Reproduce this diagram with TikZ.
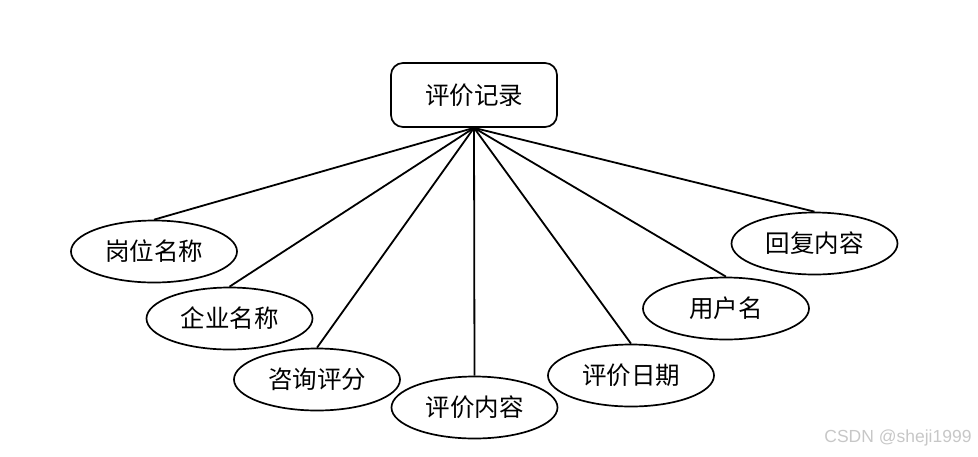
\documentclass[tikz,border=0pt]{standalone}
\usepackage{fontspec}
\newfontfamily\cjk{Noto Sans CJK SC}
\newfontfamily\wmfont{Liberation Sans}
\usetikzlibrary{shapes.geometric}
\begin{document}
\begin{tikzpicture}[x=1pt,y=-1pt,
  cjktext/.style={font=\cjk\fontsize{24.5}{24.5}\selectfont},
  attr/.style={ellipse, draw, line width=1.7pt, minimum width=166pt, minimum height=62pt, inner sep=0pt, cjktext},
  ent/.style={rectangle, rounded corners=12pt, draw, line width=1.7pt, minimum width=166pt, minimum height=64pt, inner sep=0pt, cjktext},
  link/.style={line width=1.8pt},
  wm/.style={font=\wmfont\fontsize{17.5}{17.5}\selectfont, text=black!22}]
\useasboundingbox (0,0) rectangle (978,456);
\node[ent] (e) at (474,95) {评价记录};
\node[attr] (a1) at (154,251.5) {岗位名称};
\node[attr] (a2) at (229.5,318.5) {企业名称};
\node[attr] (a3) at (317,379.5) {咨询评分};
\node[attr] (a4) at (474.5,407.5) {评价内容};
\node[attr] (a5) at (631,375.5) {评价日期};
\node[attr] (a6) at (726,308.5) {用户名};
\node[attr] (a7) at (814.5,243.5) {回复内容};
\foreach \n in {a1,a2,a3,a4,a5,a6,a7} {
  \draw[link] (e.south) -- (\n.north);
}
\node[wm] (w) at (898,438) {CSDN @sheji1999};
\end{tikzpicture}
\end{document}
